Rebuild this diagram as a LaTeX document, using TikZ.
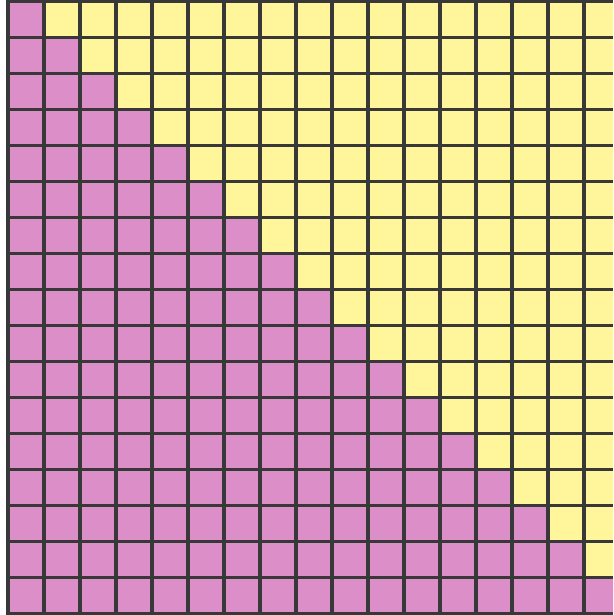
\documentclass[tikz,border=0pt]{standalone}
\definecolor{cellpink}{HTML}{DC8EC8}
\definecolor{cellyellow}{HTML}{FFF59A}
\definecolor{gridline}{HTML}{383838}
\tikzset{
  pinkcell/.style={fill=cellpink},
  yellowcell/.style={fill=cellyellow},
  gridrule/.style={draw=gridline, line width=3.2pt}
}
\begin{document}
\begin{tikzpicture}[x=1pt,y=-1pt]
\useasboundingbox (0,0) rectangle (613,615);
\fill[white] (0,0) rectangle (613,615);
\clip (0,0) rectangle (613,615);
\foreach \r in {0,...,16}{
  \foreach \c in {0,...,16}{
    \pgfmathsetmacro{\xa}{8+36*\c}
    \pgfmathsetmacro{\ya}{1.5+36*\r}
    \ifnum\c>\r
      \fill[yellowcell] (\xa,\ya) rectangle ++(36,36);
    \else
      \fill[pinkcell] (\xa,\ya) rectangle ++(36,36);
    \fi
  }
}
\foreach \k in {0,...,16}{
  \draw[gridrule] ({8+36*\k},0) -- ({8+36*\k},615);
}
\foreach \k in {0,...,17}{
  \draw[gridrule] (8,{1.5+36*\k}) -- (613,{1.5+36*\k});
}
\end{tikzpicture}
\end{document}
